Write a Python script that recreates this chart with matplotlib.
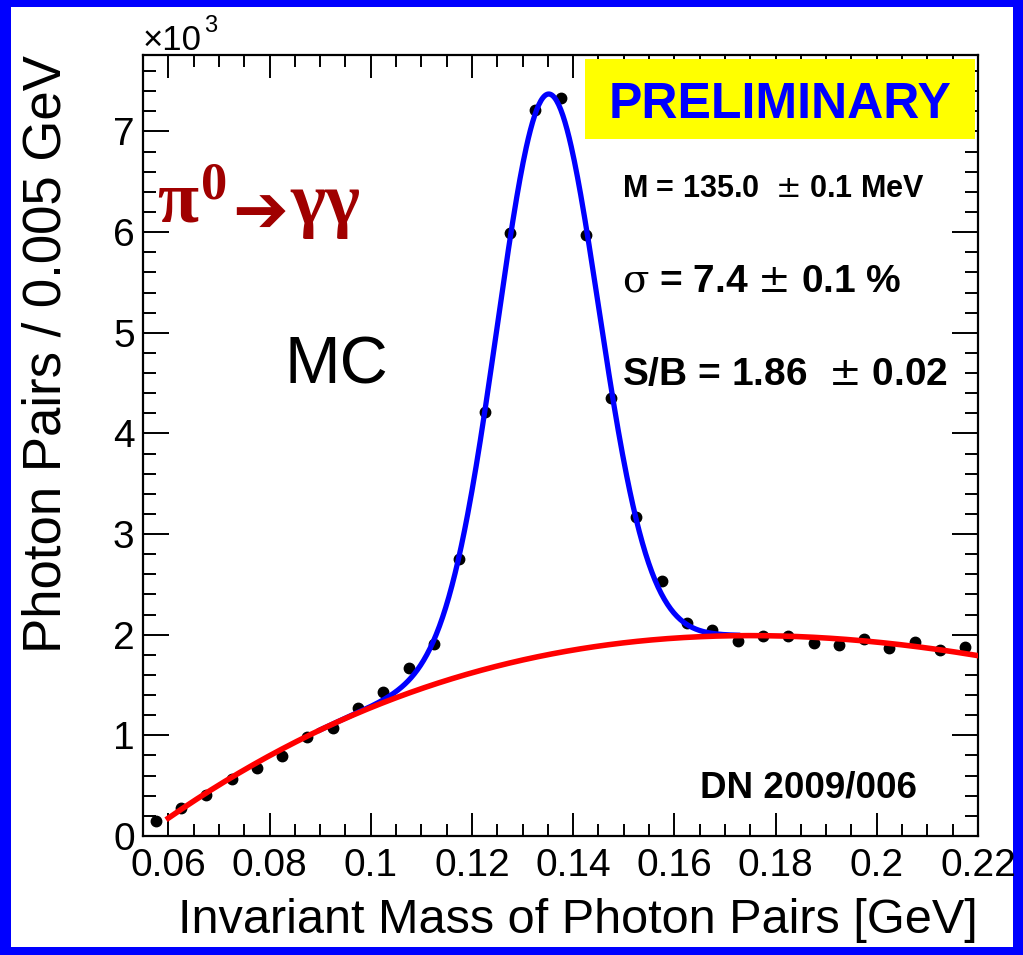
import numpy as np
import matplotlib
matplotlib.use("Agg")
import matplotlib.pyplot as plt
from matplotlib.patches import Rectangle
from matplotlib.ticker import MultipleLocator, FuncFormatter

# ---- data ----
bin_centers = [0.0575, 0.0625, 0.0675, 0.0725, 0.0775, 0.0825, 0.0875, 0.0925,
               0.0975, 0.1025, 0.1075, 0.1125, 0.1175, 0.1225, 0.1275, 0.1325,
               0.1375, 0.1425, 0.1475, 0.1525, 0.1575, 0.1625, 0.1675, 0.1725,
               0.1775, 0.1825, 0.1875, 0.1925, 0.1975, 0.2025, 0.2075, 0.2125,
               0.2175]
counts = [149, 275, 408, 567, 673, 798, 987, 1077, 1275, 1434, 1667, 1906,
          2753, 4215, 5994, 7217, 7336, 5974, 4354, 3171, 2535, 2117, 2048,
          1938, 1988, 1988, 1918, 1899, 1958, 1869, 1928, 1849, 1879]

# background curve (red) read at several masses
bkg_x = [0.060, 0.0721, 0.080, 0.0919, 0.0998, 0.1117, 0.1249, 0.1335,
         0.1414, 0.1533, 0.1663, 0.1926, 0.2091, 0.218]
bkg_y = [175, 571, 792, 1116, 1264, 1485, 1710, 1776, 1858, 1924, 1980,
         1967, 1891, 1792]

# signal peak parameters (blue fit)
peak_mean = 0.135
peak_sigma = 0.0100
peak_amp = 5570
fit_range = (0.090, 0.1725)
bkg_range = (0.060, 0.220)

xticks = [0.06, 0.08, 0.1, 0.12, 0.14, 0.16, 0.18, 0.2, 0.22]
yticks = [0, 1000, 2000, 3000, 4000, 5000, 6000, 7000]

# ---- figure ----
W, H = 1023, 955
fig = plt.figure(figsize=(W / 100, H / 100), dpi=100, facecolor=(0, 0, 1))
fig.patches.append(Rectangle((11 / W, 8 / H), (1013 - 11) / W, (948 - 8) / H,
                             transform=fig.transFigure, facecolor='white',
                             edgecolor='none', zorder=-10))

ax = fig.add_axes([143 / W, 1 - 836 / H, (978 - 143) / W, (836 - 55) / H])
ax.set_zorder(5)
ax.set_facecolor('white')

sans = 'Liberation Sans'

bcoef = np.polyfit(bkg_x, bkg_y, 3)

def bkg(x):
    return np.polyval(bcoef, x)

ax.plot(bin_centers, counts, 'o', color='black', markersize=7.5, zorder=2)

xf = np.linspace(fit_range[0], fit_range[1], 400)
ax.plot(xf, bkg(xf) + peak_amp * np.exp(-0.5 * ((xf - peak_mean) / peak_sigma) ** 2),
        color=(0, 0, 1), lw=3.8, zorder=3)
xb = np.linspace(bkg_range[0], bkg_range[1], 400)
ax.plot(xb, bkg(xb), color=(1, 0, 0), lw=4.0, zorder=4)

ax.set_xlim(0.055, 0.22)
ax.set_ylim(0, 7760)
ax.set_xticks(xticks)
ax.set_yticks(yticks)
ax.xaxis.set_minor_locator(MultipleLocator(0.005))
ax.yaxis.set_minor_locator(MultipleLocator(200))
ax.xaxis.set_major_formatter(FuncFormatter(lambda v, p: f'{v:g}'))
ax.yaxis.set_major_formatter(FuncFormatter(lambda v, p: f'{v / 1000:g}'))

ax.tick_params(which='both', direction='in', top=True, right=True, width=1.4,
               colors='black')
ax.tick_params(axis='x', which='major', length=16.5, pad=8.5)
ax.tick_params(axis='x', which='minor', length=8.6)
ax.tick_params(axis='y', which='major', length=18.7, pad=6)
ax.tick_params(axis='y', which='minor', length=9.4)
for lab in ax.get_xticklabels() + ax.get_yticklabels():
    lab.set_fontfamily(sans)
    lab.set_fontsize(28)
for s in ax.spines.values():
    s.set_linewidth(1.6)

ax.set_xlabel('Invariant Mass of Photon Pairs [GeV]', fontsize=35,
              family=sans, loc='right', labelpad=10)
ax.set_ylabel('Photon Pairs / 0.005 GeV', fontsize=38, family=sans,
              loc='top', labelpad=30)

# x10^3 multiplier
ax.text(-0.001, 1.006, '\u00d710', transform=ax.transAxes, fontsize=25,
        family=sans, ha='left', va='baseline')
ax.text(0.073, 1.029, '3', transform=ax.transAxes, fontsize=17,
        family=sans, ha='left', va='baseline')

# PRELIMINARY box
ax.add_patch(Rectangle((0.529, 0.892), 0.996 - 0.529, 0.995 - 0.892,
                       transform=ax.transAxes, facecolor=(1, 1, 0),
                       edgecolor='none', zorder=5))
ax.text(0.763, 0.919, 'PRELIMINARY', transform=ax.transAxes, fontsize=36,
        fontweight='bold', family=sans, color=(0, 0, 1), ha='center',
        va='baseline', zorder=6)

ax.text(0.5737, 0.8186, 'M = 135.0  $\\pm$ 0.1 MeV', transform=ax.transAxes,
        fontsize=22, fontweight='bold', family=sans, ha='left', va='baseline',
        math_fontfamily='dejavusans')
ax.text(0.5737, 0.697, '$\\mathrm{\\sigma}$ = 7.4 $\\pm$ 0.1 %',
        transform=ax.transAxes, fontsize=28, fontweight='bold', family=sans,
        ha='left', va='baseline', math_fontfamily='dejavuserif')
ax.text(0.5737, 0.5775, 'S/B = 1.86  $\\pm$ 0.02', transform=ax.transAxes,
        fontsize=28, fontweight='bold', family=sans, ha='left', va='baseline',
        math_fontfamily='dejavusans')
ax.text(0.667, 0.0487, 'DN 2009/006', transform=ax.transAxes, fontsize=26.5,
        fontweight='bold', family=sans, ha='left', va='baseline')

ax.text(0.170, 0.580, 'MC', transform=ax.transAxes, fontsize=48, family=sans,
        ha='left', va='baseline')

plt.rcParams['mathtext.fontset'] = 'custom'
plt.rcParams['mathtext.rm'] = 'Liberation Serif:bold'
plt.rcParams['mathtext.it'] = 'Liberation Serif:bold'
plt.rcParams['mathtext.bf'] = 'Liberation Serif:bold'
red_dark = '#a00000'
ax.text(0.017, 0.785, '$\\pi^{0}$', transform=ax.transAxes, fontsize=54,
        color=red_dark, ha='left', va='baseline', math_fontfamily='custom')
ax.text(0.107, 0.774, '\u2794', transform=ax.transAxes, fontsize=48,
        color=red_dark, ha='left', va='baseline', family='DejaVu Sans')
ax.text(0.176, 0.785, '\u03b3\u03b3', transform=ax.transAxes,
        fontsize=54, fontweight='bold', color=red_dark, ha='left',
        va='baseline', family=['Liberation Serif', 'DejaVu Serif'])

fig.savefig('out.png', dpi=100, facecolor=fig.get_facecolor())
